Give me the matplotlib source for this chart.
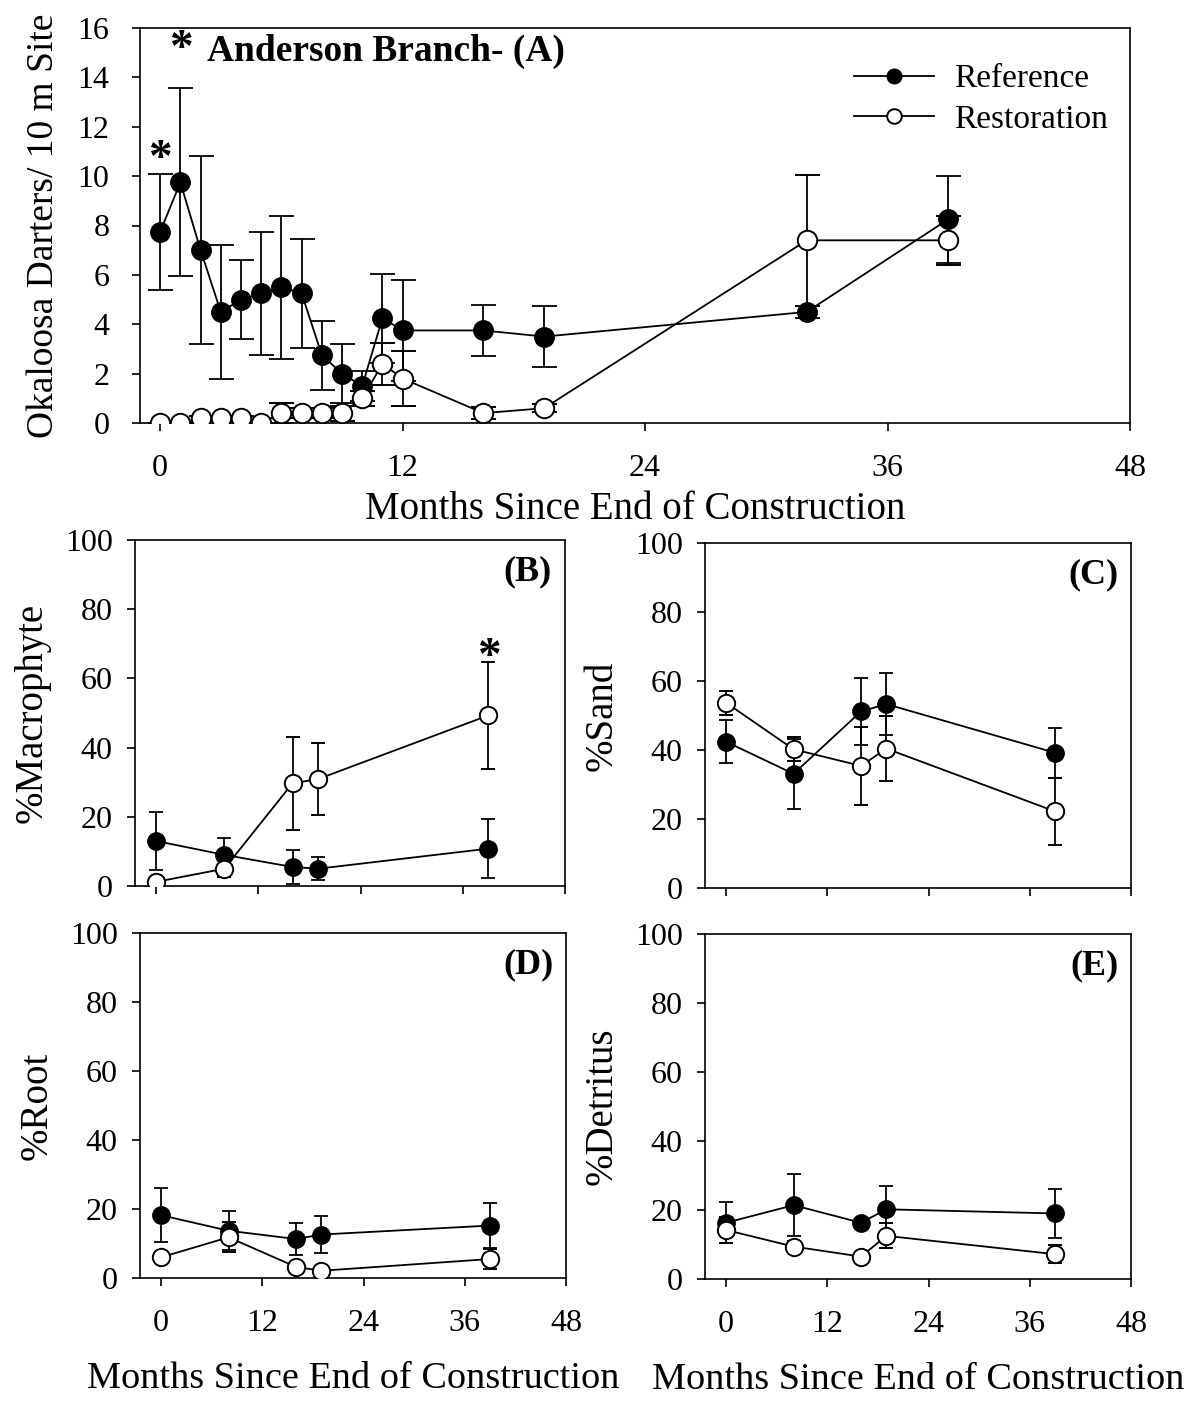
import matplotlib
matplotlib.use('Agg')
import matplotlib.pyplot as plt

plt.rcParams['font.family'] = ['Liberation Serif', 'DejaVu Serif']

# panel A: darter counts
months_a = [0, 1, 2, 3, 4, 5, 6, 7, 8, 9, 10, 11, 12, 16, 19, 32, 39]
ref_a = [7.75, 9.75, 7.0, 4.5, 5.0, 5.25, 5.5, 5.25, 2.75, 2.0, 1.5, 4.25, 3.75, 3.75, 3.5, 4.5, 8.25]
ref_a_err = [2.35, 3.8, 3.8, 2.7, 1.6, 2.5, 2.9, 2.2, 1.4, 1.2, 0.6, 1.8, 2.05, 1.05, 1.25, 0.25, 1.75]
res_a = [0, 0, 0.2, 0.2, 0.2, 0, 0.4, 0.4, 0.4, 0.4, 1.0, 2.4, 1.8, 0.4, 0.6, 7.4, 7.4]
res_a_err = [0, 0, 0.1, 0.1, 0.1, 0, 0.4, 0.2, 0.2, 0.3, 0.3, 0.85, 1.1, 0.25, 0.15, 2.65, 1.0]
star_a = [(0, 10.65), (1, 15.1)]

# panels B-E: habitat cover
months_h = [0, 8, 16, 19, 39]
macro_ref = [13.0, 9.0, 5.5, 5.0, 10.8]
macro_ref_err = [8.5, 5.0, 4.8, 3.3, 8.5]
macro_res = [1.2, 5.0, 29.7, 30.9, 49.3]
macro_res_err = [1.5, 2.5, 13.5, 10.4, 15.4]
sand_ref = [42.4, 33.1, 51.2, 53.3, 39.2]
sand_ref_err = [6.2, 10.2, 9.8, 8.9, 7.3]
sand_res = [53.7, 40.2, 35.4, 40.4, 22.2]
sand_res_err = [3.5, 3.5, 11.3, 9.5, 9.8]
root_ref = [18.2, 13.7, 11.3, 12.6, 15.2]
root_ref_err = [7.8, 5.6, 4.6, 5.4, 6.6]
root_res = [6.0, 11.8, 3.2, 2.1, 5.5]
root_res_err = [0.5, 4.4, 1.0, 0.5, 3.0]
det_ref = [16.3, 21.4, 16.3, 20.2, 19.0]
det_ref_err = [6.0, 9.0, 1.0, 6.8, 7.0]
det_res = [14.2, 9.4, 6.5, 12.5, 7.2]
det_res_err = [3.9, 1.5, 1.0, 3.6, 2.7]

W, H = 1190, 1402
fig = plt.figure(figsize=(W / 100, H / 100), dpi=100)


def px_axes(l, t, r, b):
    return fig.add_axes([l / W, 1 - b / H, (r - l) / W, (b - t) / H])


def style(ax, ypad=10):
    for s in ax.spines.values():
        s.set_linewidth(1.2)
    ax.tick_params(direction='out', length=6, width=1.2, labelsize=23)
    ax.tick_params(axis='y', pad=ypad)


def series(ax, x, ref, ref_err, res, res_err, ms, cap):
    ax.errorbar(x, ref, yerr=ref_err, color='black', lw=1.3, marker='o', ms=ms,
                mfc='black', mec='black', elinewidth=1.3, capsize=cap, capthick=1.3,
                label='Reference', zorder=3)
    ax.errorbar(x, res, yerr=res_err, color='black', lw=1.3, marker='o', ms=ms,
                mfc='white', mec='black', mew=1.4, elinewidth=1.3, capsize=cap,
                capthick=1.3, label='Restoration', zorder=4)


# ---- panel A
ax = px_axes(140, 28, 1130, 423)
series(ax, months_a, ref_a, ref_a_err, res_a, res_a_err, 14, 9)
ax.set_xlim(-1, 48)
ax.set_ylim(0, 16)
ax.set_xticks([0, 12, 24, 36, 48])
ax.set_yticks(range(0, 17, 2))
style(ax, ypad=16)
ax.tick_params(axis='x', pad=16)
ax.set_ylabel('Okaloosa Darters/ 10 m Site', fontsize=27, labelpad=12)
ax.set_xlabel('Months Since End of Construction', fontsize=28, labelpad=6)
for sx, sy in star_a:
    ax.text(sx, sy, '*', ha='center', va='center', fontsize=34, fontweight='bold')
ax.text(0.068, 0.985, 'Anderson Branch- (A)', transform=ax.transAxes,
        fontsize=27, fontweight='bold', ha='left', va='top')
handles, labels = ax.get_legend_handles_labels()
handles = [h[0] for h in handles]
ax.legend(handles, labels, loc='upper right', bbox_to_anchor=(1.008, 0.985),
          frameon=False, fontsize=24, handlelength=2.4, markerscale=0.75,
          handletextpad=0.6, labelspacing=0.3)

# ---- panels B-E
panels = [
    ((135, 540, 565, 886), macro_ref, macro_ref_err, macro_res, macro_res_err, '%Macrophyte', '(B)'),
    ((705, 543, 1131, 888), sand_ref, sand_ref_err, sand_res, sand_res_err, '%Sand', '(C)'),
    ((140, 933, 566, 1278), root_ref, root_ref_err, root_res, root_res_err, '%Root', '(D)'),
    ((705, 934, 1131, 1279), det_ref, det_ref_err, det_res, det_res_err, '%Detritus', '(E)'),
]
for i, (box, rf, rfe, rs, rse, ylab, tag) in enumerate(panels):
    ax = px_axes(*box)
    series(ax, months_h, rf, rfe, rs, rse, 12.5, 5)
    ax.set_xlim(-2.5, 48)
    ax.set_ylim(0, 100)
    ax.set_xticks([0, 12, 24, 36, 48])
    ax.set_yticks(range(0, 101, 20))
    style(ax)
    ax.set_ylabel(ylab, fontsize=28, labelpad=10)
    ax.text(0.97, 0.955, tag, transform=ax.transAxes, ha='right', va='top',
            fontsize=26, fontweight='bold')
    if i < 2:
        ax.tick_params(axis='x', labelbottom=False)
    else:
        ax.tick_params(axis='x', pad=16)
        ax.set_xlabel('Months Since End of Construction', fontsize=27.5, labelpad=17)
    if tag == '(B)':
        ax.text(39, 66, '*', ha='center', va='center', fontsize=34, fontweight='bold')

fig.savefig('out.png', dpi=100)
